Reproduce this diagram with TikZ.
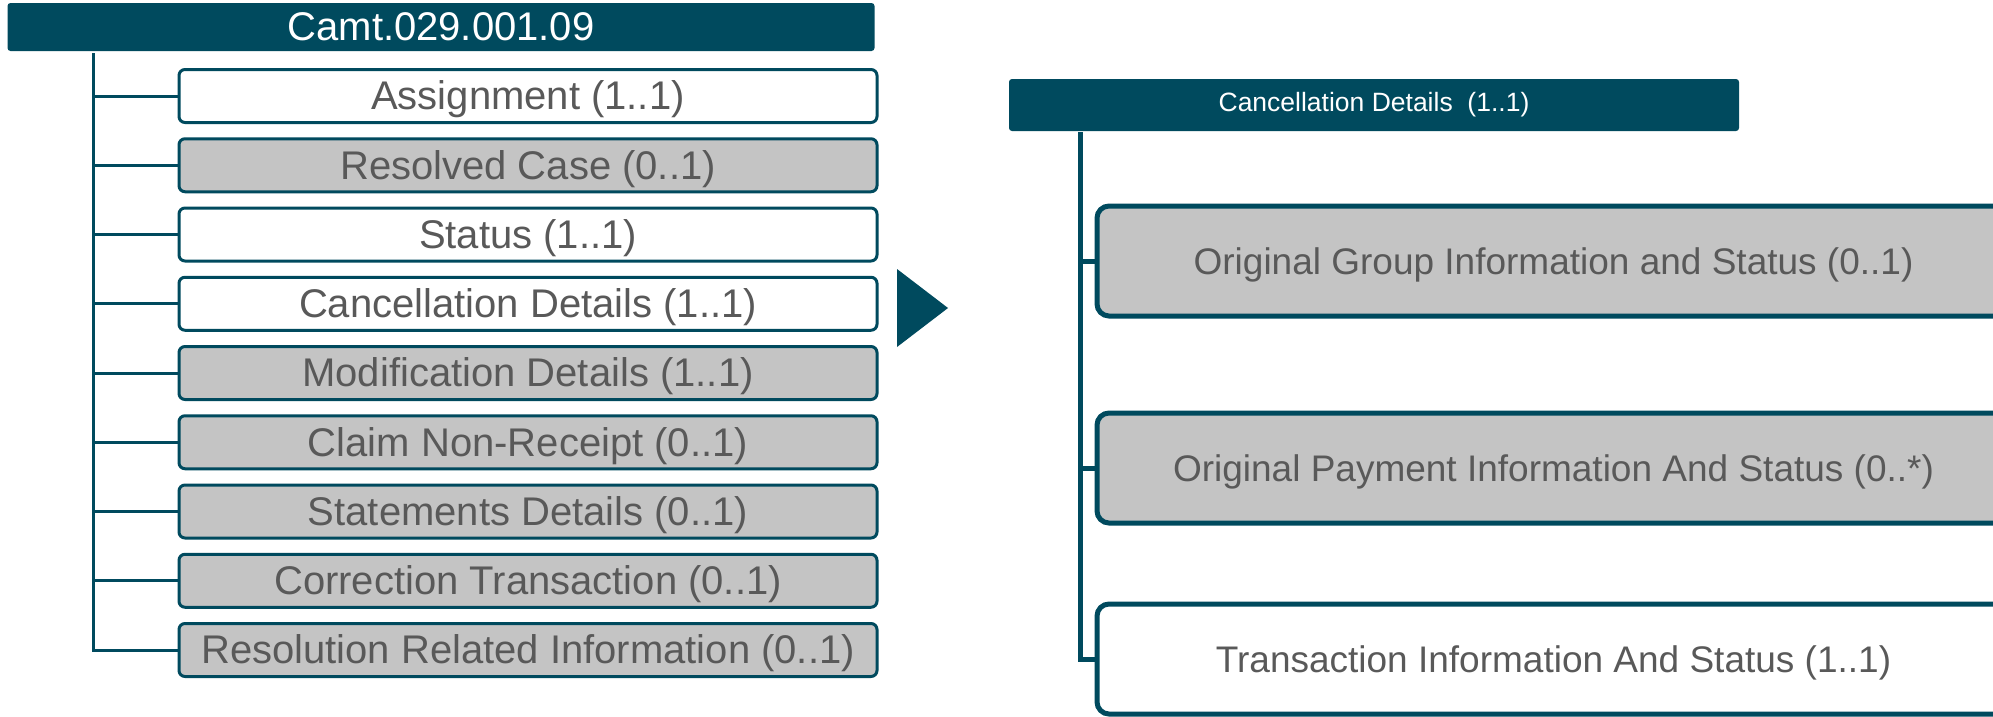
\documentclass[tikz,border=0pt]{standalone}
\usepackage{fontspec}
\setmainfont{Liberation Sans}
\definecolor{teal}{RGB}{0,74,94}
\definecolor{boxgray}{RGB}{196,196,196}
\definecolor{txtgray}{RGB}{89,89,89}
\tikzset{
  hdrbox/.style={fill=teal, draw=none, rounded corners=3pt, inner sep=0pt,
    text=white, anchor=center},
  leftitem/.style={draw=teal, line width=3pt, rounded corners=6pt, inner sep=0pt,
    minimum width=698pt, minimum height=53pt, text=txtgray,
    text height=36pt, text depth=8.5pt,
    font=\fontsize{40}{48}\selectfont},
  rightitem/.style={draw=teal, line width=5pt, rounded corners=12pt, inner sep=0pt,
    minimum width=913pt, minimum height=110pt, text=txtgray,
    text height=35pt, text depth=7.8pt,
    font=\fontsize{37}{44}\selectfont},
  filledgray/.style={fill=boxgray},
  filledwhite/.style={fill=white},
  ltree/.style={draw=teal, line width=3pt},
  rtree/.style={draw=teal, line width=5pt},
}
\begin{document}
\begin{tikzpicture}[x=1pt,y=-1pt]
\clip (0,0) rectangle (1993,716);
\fill[white] (0,0) rectangle (1993,716);

% ---- left: message structure ----
\node[hdrbox, minimum width=867pt, minimum height=48pt,
  font=\fontsize{40}{48}\selectfont] (hdr) at (441,27) {Camt.029.001.09};

\node[leftitem, filledwhite] (b1) at (528,96)         {Assignment (1..1)};
\node[leftitem, filledgray]  (b2) at (528,165.25)     {Resolved Case (0..1)};
\node[leftitem, filledwhite] (b3) at (528,234.5)      {Status (1..1)};
\node[leftitem, filledwhite] (b4) at (528,303.75)     {Cancellation Details (1..1)};
\node[leftitem, filledgray]  (b5) at (528,373)        {Modification Details (1..1)};
\node[leftitem, filledgray]  (b6) at (528,442.25)     {Claim Non-Receipt (0..1)};
\node[leftitem, filledgray]  (b7) at (528,511.5)      {Statements Details (0..1)};
\node[leftitem, filledgray]  (b8) at (528,580.75)     {Correction Transaction (0..1)};
\node[leftitem, filledgray]  (b9) at (528,650)        {Resolution Related Information (0..1)};

\coordinate (ltop) at (93,53);
\draw[ltree] (ltop) |- (b9.west);
\foreach \i in {1,...,8}{
  \draw[ltree] (b\i.west -| ltop) -- (b\i.west);
}

% ---- arrow between the two parts ----
\fill[teal] (897,269) -- (948,308) -- (897,347) -- cycle;

% ---- right: cancellation details ----
\node[hdrbox, minimum width=730pt, minimum height=52pt,
  font=\fontsize{26.5}{32}\selectfont] (chdr) at (1374,105)
  {Cancellation Details~~(1..1)};

\node[rightitem, filledgray]  (r1) at (1553.5,261) {Original Group Information and Status (0..1)};
\node[rightitem, filledgray]  (r2) at (1553.5,468) {Original Payment Information And Status (0..*)};
\node[rightitem, filledwhite] (r3) at (1553.5,659) {Transaction Information And Status (1..1)};

\coordinate (rtop) at (1080,132);
\draw[rtree] (rtop) |- (r3.west);
\draw[rtree] (r1.west -| rtop) -- (r1.west);
\draw[rtree] (r2.west -| rtop) -- (r2.west);
\end{tikzpicture}
\end{document}
